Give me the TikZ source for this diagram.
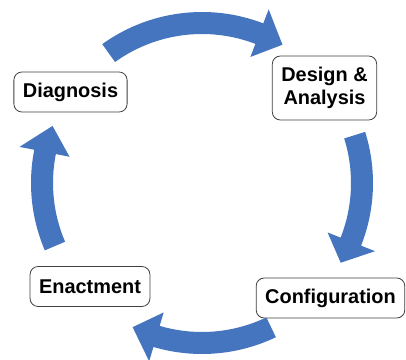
\documentclass[tikz,border=0pt]{standalone}
\usepackage{fontspec}
\setmainfont{Liberation Sans}
\usetikzlibrary{positioning}
\definecolor{cycleblue}{HTML}{4675BF}

\begin{document}
\begin{tikzpicture}[x=1bp,y=1bp,
        stage/.style={draw=black!75,line width=0.8bp,fill=white,rounded corners=8bp,
        inner xsep=9bp,minimum height=40bp,align=center,
        font=\fontsize{20}{23}\selectfont\bfseries}]
        \useasboundingbox (0,0) rectangle (406,360);
        \coordinate (c) at (202,177);

        % Cycle arrows: tail angle / head base angle / tip angle
        \foreach \tail/\base/\tip in {125.7/69/59.8, 17.4/-21.5/-29.9,
                -64.4/-106.5/-115.7, 203.2/168.8/159.1}
        \fill[cycleblue,shift={(c)}] (\tail:171) arc[start angle=\tail,end angle=\base,radius=171]
                -- (\base:186) -- (\tip:160) -- (\base:135) -- (\base:149)
                arc[start angle=\base,end angle=\tail,radius=149] -- cycle;

        % Stages
        \node[stage] (diag) at (70.5,268) {Diagnosis};
        \node[stage,minimum height=64bp] (design) at (324.5,272) {Design \&\\Analysis};
        \node[stage] (config) at (330.5,62) {Configuration};
        \node[stage] (enact) at (90,73.5) {Enactment};

    \end{tikzpicture}
\end{document}
